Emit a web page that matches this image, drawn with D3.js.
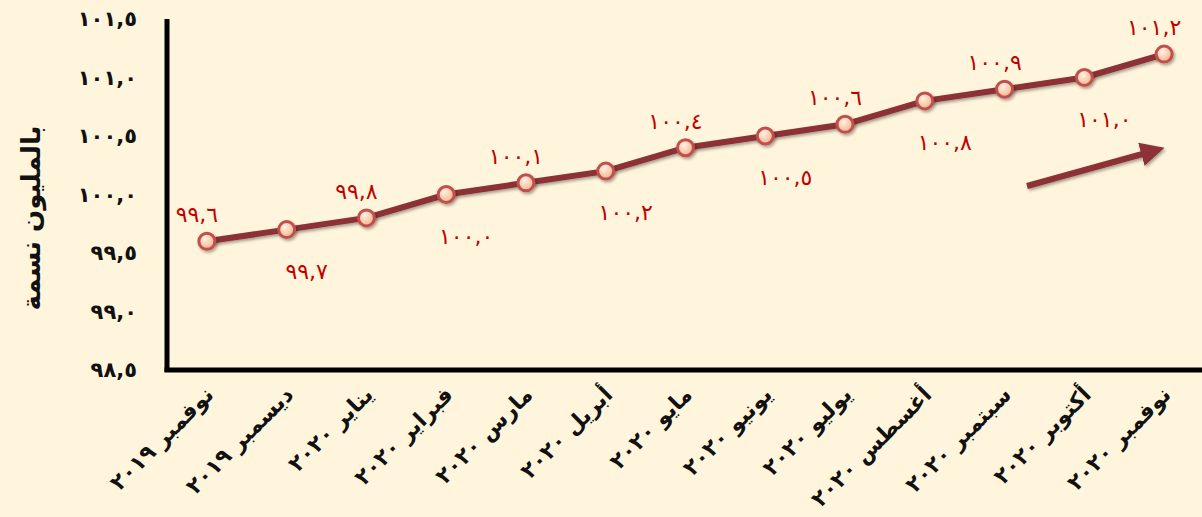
<!DOCTYPE html>
<html>
<head>
<meta charset="utf-8">
<script src="https://cdn.jsdelivr.net/npm/d3@7"></script>
<style>
  body { margin: 0; background: #fff5dc; }
  svg { display: block; }
</style>
</head>
<body>
<script>
// data
var months = ["نوفمبر", "ديسمبر", "يناير", "فبراير", "مارس", "أبريل", "مايو",
              "يونيو", "يوليو", "أغسطس", "سبتمبر", "أكتوبر", "نوفمبر"];
var years = [2019, 2019, 2020, 2020, 2020, 2020, 2020, 2020, 2020, 2020, 2020, 2020, 2020];
var values = [99.6, 99.7, 99.8, 100.0, 100.1, 100.2, 100.4, 100.5, 100.6, 100.8, 100.9, 101.0, 101.2];
var yTicks = [98.5, 99.0, 99.5, 100.0, 100.5, 101.0, 101.5];
var yTitle = "بالمليون نسمة";

var width = 1202, height = 517;
var arab = "٠١٢٣٤٥٦٧٨٩";

function digits(s) {
    return String(s).replace(/[0-9]/g, function(c) { return arab[+c]; });
}
// one decimal, eastern arabic digits, decimal point shown as comma
function toArabic(v) {
    return digits(v.toFixed(1)).replace(".", ",");
}

var svg = d3.select("body").append("svg")
    .attr("width", width)
    .attr("height", height);

svg.append("rect").attr("width", width).attr("height", height).attr("fill", "#fff5dc");

var defs = svg.append("defs");
var grad = defs.append("radialGradient").attr("id", "mk").attr("cx", "40%").attr("cy", "35%").attr("r", "65%");
grad.append("stop").attr("offset", "0%").attr("stop-color", "#fff1e4");
grad.append("stop").attr("offset", "100%").attr("stop-color", "#f8b48a");

var sh = defs.append("filter").attr("id", "sh").attr("x", "-50%").attr("y", "-50%").attr("width", "200%").attr("height", "200%");
sh.append("feDropShadow").attr("dx", 1.5).attr("dy", 2).attr("stdDeviation", 1.5)
    .attr("flood-color", "#000").attr("flood-opacity", 0.35);

var x0 = 167, x1 = 1204;
var x = d3.scaleBand().domain(d3.range(values.length)).range([x0, x1]);
var y = d3.scaleLinear().domain([98.5, 101.5]).range([370, 19]);

// y tick labels
svg.append("g").selectAll("text")
    .data(yTicks)
    .enter().append("text")
    .attr("x", 137)
    .attr("y", function(d) { return y(d); })
    .attr("dy", "0.35em")
    .attr("text-anchor", "end")
    .style("font-family", "DejaVu Sans")
    .style("font-size", "21px")
    .style("font-weight", "bold")
    .style("letter-spacing", "1.5px")
    .style("fill", "#111")
    .text(function(d) { return toArabic(d); });

// y title
svg.append("text")
    .attr("transform", "translate(40,218) rotate(-90)")
    .attr("text-anchor", "middle")
    .style("font-family", "DejaVu Sans")
    .style("font-size", "26px")
    .style("font-weight", "bold")
    .style("fill", "#111")
    .text(yTitle);

// axes lines
svg.append("line").attr("x1", x0).attr("x2", x0).attr("y1", 19).attr("y2", 372)
    .attr("stroke", "#000").attr("stroke-width", 5);
svg.append("line").attr("x1", x0 - 2.5).attr("x2", width).attr("y1", 370).attr("y2", 370)
    .attr("stroke", "#000").attr("stroke-width", 5);

// x labels, rotated: month then year digits spaced out
var xl = svg.append("g").selectAll("text")
    .data(months)
    .enter().append("text")
    .attr("transform", function(d, i) {
        return "translate(" + (x(i) + x.bandwidth() / 2 + 8) + ",396) rotate(-45)";
    })
    .attr("text-anchor", "end")
    .style("font-family", "DejaVu Sans")
    .style("font-size", "22px")
    .style("font-weight", "bold")
    .style("fill", "#111");

xl.append("tspan")
    .text(function(d) { return d + " "; });
xl.append("tspan")
    .style("letter-spacing", "9px")
    .text(function(d, i) { return digits(years[i]); });

var cx = function(d, i) { return x(i) + x.bandwidth() / 2; };

// line
var line = d3.line()
    .x(function(d, i) { return cx(d, i); })
    .y(function(d) { return y(d); });

svg.append("path")
    .datum(values)
    .attr("d", line)
    .attr("fill", "none")
    .attr("stroke", "#8c3034")
    .attr("stroke-width", 6)
    .attr("stroke-linejoin", "round")
    .attr("filter", "url(#sh)");

// markers
svg.append("g").selectAll("circle")
    .data(values)
    .enter().append("circle")
    .attr("cx", cx)
    .attr("cy", function(d) { return y(d); })
    .attr("r", 8)
    .attr("fill", "url(#mk)")
    .attr("stroke", "#c0504d")
    .attr("stroke-width", 3)
    .attr("filter", "url(#sh)");

// value labels, alternating above / below
svg.append("g").selectAll("text")
    .data(values)
    .enter().append("text")
    .attr("x", function(d, i) { return cx(d, i) + (i % 2 ? 20 : -10); })
    .attr("y", function(d) { return y(d); })
    .attr("dy", function(d, i) { return i % 2 ? 49 : -19; })
    .attr("text-anchor", "middle")
    .style("font-family", "DejaVu Sans")
    .style("font-size", "22px")
    .style("letter-spacing", "5px")
    .style("fill", "#c00000")
    .text(function(d) { return toArabic(d); });

// trend arrow
var ah = defs.append("marker").attr("id", "ah")
    .attr("viewBox", "0 0 10 10").attr("refX", 2).attr("refY", 5)
    .attr("markerWidth", 4).attr("markerHeight", 4)
    .attr("markerUnits", "strokeWidth")
    .attr("orient", "auto");
ah.append("path").attr("d", "M0,0 L10,5 L0,10 z").attr("fill", "#8c3034");

svg.append("line")
    .attr("x1", 1027).attr("y1", 186)
    .attr("x2", 1146).attr("y2", 153)
    .attr("stroke", "#8c3034").attr("stroke-width", 6)
    .attr("marker-end", "url(#ah)")
    .attr("filter", "url(#sh)");
</script>
</body>
</html>
